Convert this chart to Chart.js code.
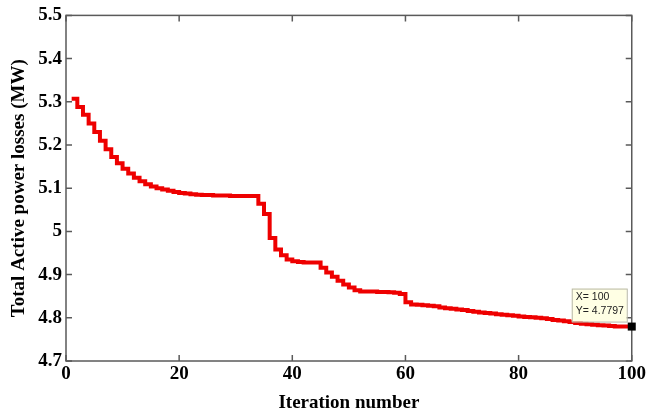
<!DOCTYPE html>
<html>
<head>
<meta charset="utf-8">
<script src="https://cdn.jsdelivr.net/npm/chart.js@4.4.1/dist/chart.umd.min.js"></script>
<style>
  html, body { margin: 0; padding: 0; background: #fff; }
  #wrap { width: 648px; height: 416px; }
</style>
</head>
<body>
<div id="wrap"><canvas id="myChart"></canvas></div>
<script>
//******Datos: pérdidas por iteración******
var iteraciones = [];
for (var i = 1; i <= 100; i++) { iteraciones.push(i); }

var perdidas = [
    5.307, 5.288, 5.270, 5.250, 5.230, 5.210, 5.190, 5.172, 5.158, 5.145,
    5.134, 5.124, 5.116, 5.109, 5.104, 5.100, 5.097, 5.094, 5.091, 5.089,
    5.088, 5.086, 5.085, 5.084, 5.084, 5.083, 5.083, 5.083, 5.082, 5.082,
    5.082, 5.082, 5.082, 5.064, 5.040, 4.985, 4.958, 4.945, 4.935, 4.931,
    4.929, 4.928, 4.928, 4.928, 4.916, 4.905, 4.895, 4.886, 4.877, 4.870,
    4.864, 4.861, 4.861, 4.861, 4.860, 4.860, 4.859, 4.858, 4.855, 4.836,
    4.831, 4.830, 4.829, 4.828, 4.827, 4.824, 4.822, 4.821, 4.819, 4.818,
    4.816, 4.814, 4.812, 4.811, 4.810, 4.808, 4.807, 4.806, 4.805, 4.803,
    4.802, 4.801, 4.800, 4.799, 4.797, 4.795, 4.794, 4.792, 4.790, 4.788,
    4.786, 4.785, 4.784, 4.783, 4.782, 4.781, 4.780, 4.780, 4.780, 4.7797
];

var xTicks = [0, 20, 40, 60, 80, 100];
var yTicks = [4.7, 4.8, 4.9, 5.0, 5.1, 5.2, 5.3, 5.4, 5.5];
var tipLabel = ['X= 100', 'Y= 4.7797'];

var puntos = iteraciones.map(function(it, k) { return {x: it, y: perdidas[k]}; });

//******Marco con ticks hacia adentro (estilo MATLAB) y datatip******
var marco = {
    id: 'marco',
    beforeDatasetsDraw: function(chart) {
        var ctx = chart.ctx, a = chart.chartArea;
        var sx = chart.scales.x, sy = chart.scales.y;
        ctx.save();
        ctx.strokeStyle = '#5a5a5a';
        ctx.lineWidth = 1.5;
        ctx.strokeRect(a.left, a.top, a.right - a.left, a.bottom - a.top);
        ctx.beginPath();
        xTicks.forEach(function(v) {
            var px = sx.getPixelForValue(v);
            ctx.moveTo(px, a.bottom); ctx.lineTo(px, a.bottom - 6);
            ctx.moveTo(px, a.top); ctx.lineTo(px, a.top + 6);
        });
        yTicks.forEach(function(v) {
            var py = sy.getPixelForValue(v);
            ctx.moveTo(a.left, py); ctx.lineTo(a.left + 6, py);
            ctx.moveTo(a.right, py); ctx.lineTo(a.right - 6, py);
        });
        ctx.stroke();
        ctx.restore();
    },
    afterDatasetsDraw: function(chart) {
        var ctx = chart.ctx;
        var meta = chart.getDatasetMeta(0);
        var p = meta.data[meta.data.length - 1];
        ctx.save();
        // cuadro del datatip
        ctx.fillStyle = '#ffffe4';
        ctx.strokeStyle = '#b8b8a8';
        ctx.lineWidth = 1;
        ctx.fillRect(p.x - 60, p.y - 38, 55, 33);
        ctx.strokeRect(p.x - 60 + 0.5, p.y - 38 + 0.5, 55, 33);
        ctx.fillStyle = '#222';
        ctx.font = '10.5px "Liberation Sans", Arial, sans-serif';
        ctx.textBaseline = 'middle';
        ctx.fillText(tipLabel[0], p.x - 56, p.y - 29);
        ctx.fillText(tipLabel[1], p.x - 56, p.y - 15);
        // marcador
        ctx.fillStyle = '#000';
        ctx.fillRect(p.x - 4, p.y - 4, 8, 8);
        ctx.restore();
    }
};

/******Gráfica de convergencia******/
var fuenteEje = {family: '"Liberation Serif", "Times New Roman", serif', size: 19, weight: 'bold'};

var ctx = document.getElementById('myChart').getContext('2d');
var myChart = new Chart(ctx, {
    type: 'line',
    data: {
        datasets: [{
            label: 'Pérdidas',
            data: puntos,
            borderColor: '#ee0000',
            backgroundColor: '#ee0000',
            borderWidth: 4,
            stepped: true,
            pointRadius: 0,
            fill: false
        }]
    },
    options: {
        responsive: true,
        maintainAspectRatio: false,
        animation: false,
        layout: {
            padding: {left: 8, top: 12, right: 16, bottom: 0}
        },
        scales: {
            x: {
                type: 'linear',
                min: 0,
                max: 100,
                afterBuildTicks: function(s) { s.ticks = xTicks.map(function(v) { return {value: v}; }); },
                afterFit: function(s) { s.height = 55; },
                grid: {display: false, drawTicks: false},
                border: {display: false},
                ticks: {color: '#000', font: fuenteEje, padding: 2, maxRotation: 0},
                title: {display: true, text: 'Iteration number', color: '#000', font: fuenteEje, padding: {top: 0, bottom: 2}}
            },
            y: {
                min: 4.7,
                max: 5.5,
                afterBuildTicks: function(s) { s.ticks = yTicks.map(function(v) { return {value: v}; }); },
                afterFit: function(s) { s.width = 58; },
                grid: {display: false, drawTicks: false},
                border: {display: false},
                ticks: {
                    color: '#000',
                    font: fuenteEje,
                    padding: 4,
                    callback: function(v) { return String(+v.toFixed(1)); }
                },
                title: {display: true, text: 'Total Active power losses (MW)', color: '#000', font: fuenteEje, padding: {top: 0, bottom: 4}}
            }
        },
        plugins: {
            legend: {display: false},
            tooltip: {enabled: false}
        }
    },
    plugins: [marco]
});
</script>
</body>
</html>
